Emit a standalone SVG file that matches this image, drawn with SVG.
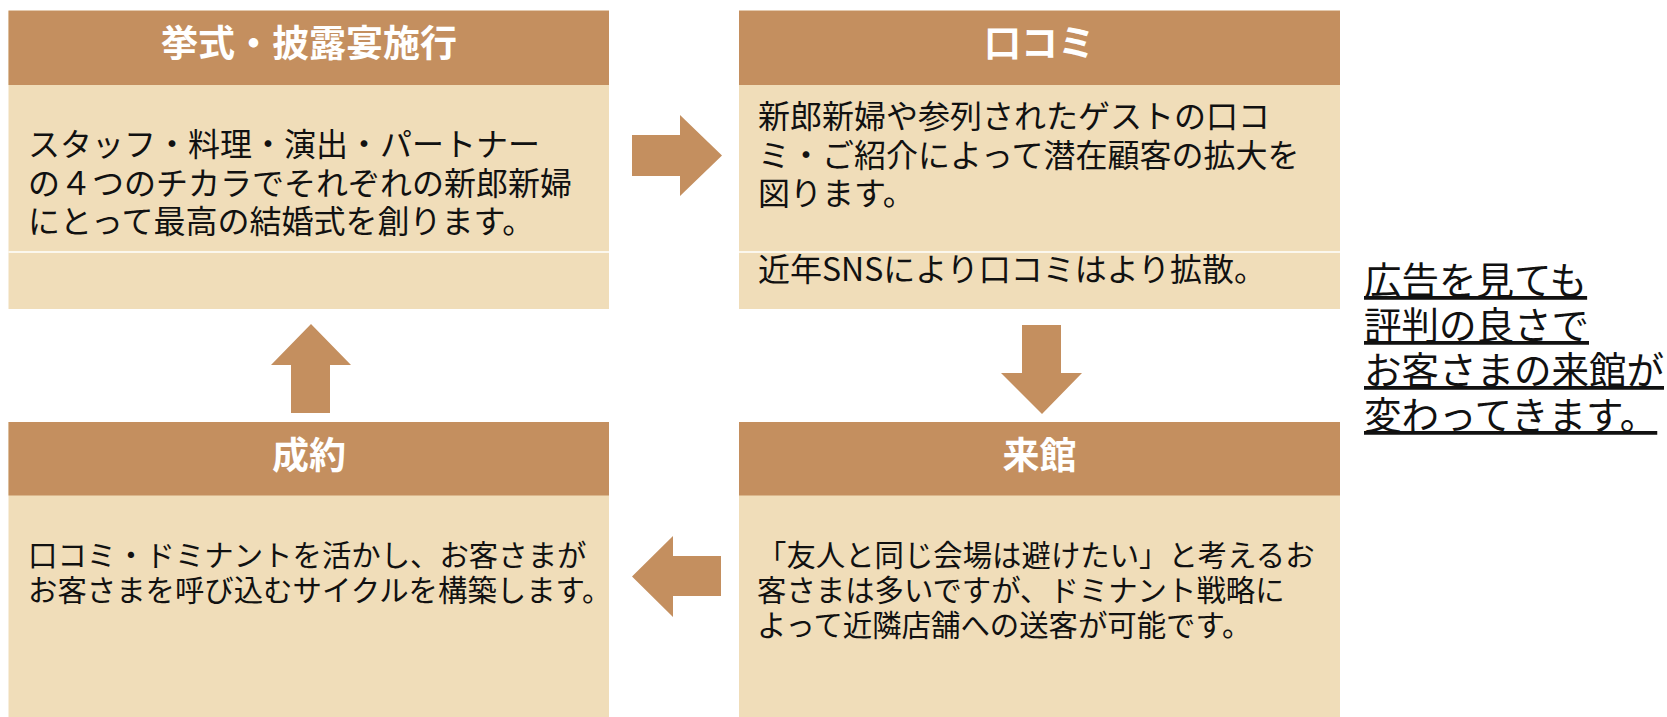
<svg xmlns="http://www.w3.org/2000/svg" width="1667" height="717" viewBox="0 0 1667 717">
<style>
.hd{fill:#C48F5F}
.bd{fill:#F0DDB9}
.sep{stroke:#FFFFFF;stroke-width:1.5}
.ttl{font-family:"Noto Sans CJK JP","Noto Sans",sans-serif;font-weight:bold;font-size:37px;fill:#FFFFFF;text-anchor:middle}
.txt{font-family:"Noto Sans CJK JP","Noto Sans",sans-serif;fill:#111111}
.t32{font-size:32px}
.t29{font-size:29.4px}
.note{font-family:"Noto Sans CJK JP","Noto Sans",sans-serif;font-size:37.5px;fill:#111111;text-decoration:underline}
.arr{fill:#C48F5F}
</style>
<rect width="1667" height="717" fill="#FFFFFF"/>
<g id="node-kyoshiki">
<rect class="bd" x="8.5" y="10.6" width="600.5" height="298.4"/>
<rect class="hd" x="8.5" y="10.6" width="600.5" height="74.4"/>
<line class="sep" x1="8.5" y1="252" x2="609" y2="252"/>
<text class="ttl" x="309" y="57">挙式・披露宴施行</text>
<text class="txt t32" x="28" y="156">スタッフ・料理・演出・パートナー</text>
<text class="txt t32" x="28" y="194.5">の４つのチカラでそれぞれの新郎新婦</text>
<text class="txt t32" x="28" y="233">にとって最高の結婚式を創ります。</text>
</g>
<g id="node-kuchikomi">
<rect class="bd" x="739" y="10.6" width="601" height="298.4"/>
<rect class="hd" x="739" y="10.6" width="601" height="74.4"/>
<line class="sep" x1="739" y1="252" x2="1340" y2="252"/>
<text class="ttl" x="1039.5" y="57">口コミ</text>
<text class="txt t32" x="758" y="128">新郎新婦や参列されたゲストの口コ</text>
<text class="txt t32" x="758" y="167">ミ・ご紹介によって潜在顧客の拡大を</text>
<text class="txt t32" x="758" y="205">図ります。</text>
<text class="txt t32" x="758" y="281">近年SNSにより口コミはより拡散。</text>
</g>
<g id="node-seiyaku">
<rect class="bd" x="8.5" y="422" width="600.5" height="295"/>
<rect class="hd" x="8.5" y="422" width="600.5" height="73.5"/>
<text class="ttl" x="309" y="468.5">成約</text>
<text class="txt t29" x="28" y="566">口コミ・ドミナントを活かし、お客さまが</text>
<text class="txt t29" x="28" y="601">お客さまを呼び込むサイクルを構築します。</text>
</g>
<g id="node-raikan">
<rect class="bd" x="739" y="422" width="601" height="295"/>
<rect class="hd" x="739" y="422" width="601" height="73.5"/>
<text class="ttl" x="1039.5" y="468.5">来館</text>
<text class="txt t29" x="757" y="566">「友人と同じ会場は避けたい」と考えるお</text>
<text class="txt t29" x="757" y="601">客さまは多いですが、ドミナント戦略に</text>
<text class="txt t29" x="757" y="636">よって近隣店舗への送客が可能です。</text>
</g>
<g id="connectors">
<polygon class="arr" points="632,135 680,135 680,115 722,155.5 680,196 680,176 632,176"/>
<polygon class="arr" points="1022,325 1061,325 1061,373 1082,373 1042,414 1001,373 1022,373"/>
<polygon class="arr" points="721,556 673,556 673,536 632,576.5 673,617 673,596 721,596"/>
<polygon class="arr" points="291,413 330,413 330,365 351,365 311,324 271,365 291,365"/>
</g>
<g id="note">
<text class="note" x="1364" y="294">広告を見ても</text>
<text class="note" x="1364" y="339">評判の良さで</text>
<text class="note" x="1364" y="384">お客さまの来館が</text>
<text class="note" x="1364" y="429">変わってきます。</text>
</g>
</svg>
